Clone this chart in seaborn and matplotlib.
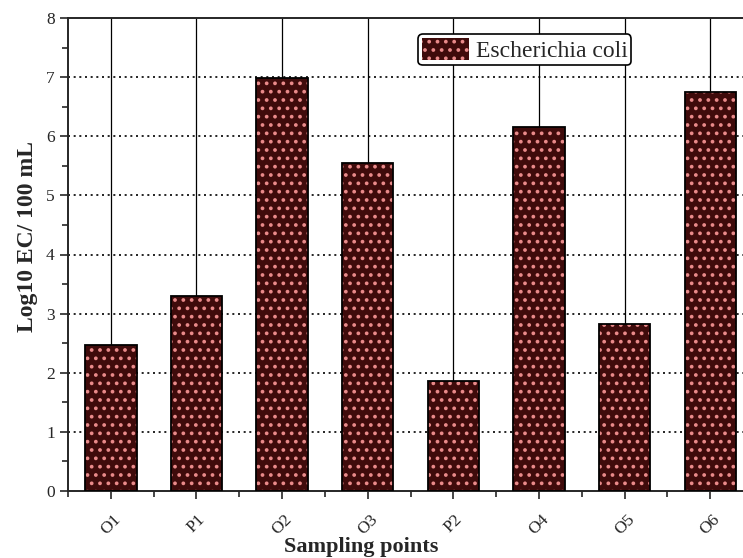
import matplotlib
matplotlib.use("Agg")
import matplotlib.pyplot as plt
import seaborn as sns
import pandas as pd
from matplotlib.ticker import MultipleLocator

# Sampling points and log10 E. coli counts
points = ["O1", "P1", "O2", "O3", "P2", "O4", "O5", "O6"]
log_ec = [2.47, 3.30, 6.99, 5.55, 1.86, 6.16, 2.83, 6.75]

df = pd.DataFrame({"point": points, "log_ec": log_ec})

sns.set_style("ticks")
plt.rcParams['font.family'] = ['Liberation Serif', 'DejaVu Serif']
plt.rcParams['hatch.linewidth'] = 1.5

fig = plt.figure(figsize=(7.43, 5.58), dpi=100)
ax = fig.add_axes([68 / 743, 67 / 558, 685 / 743, 473 / 558])

# vertical lines at each category, dotted horizontal grid
for i in range(len(points)):
    ax.axvline(i, color="black", lw=0.9, zorder=0)
for y in range(1, 8):
    ax.axhline(y, color="black", lw=1.2, ls=(0, (1.2, 2.2)), zorder=0)

# filled bars with pink dots, then black outlines on top
sns.barplot(data=df, x="point", y="log_ec", color="#3f0b0b", saturation=1,
            width=0.6, hatch="..", edgecolor="#e98a8a", linewidth=0,
            ax=ax, zorder=2, label="Escherichia coli")
sns.barplot(data=df, x="point", y="log_ec", fill=False, width=0.6,
            edgecolor="black", linewidth=1.3, ax=ax, zorder=3)

ax.set_xlim(-0.5, 7.5)
ax.set_ylim(0, 8)
ax.yaxis.set_major_locator(MultipleLocator(1))
ax.yaxis.set_minor_locator(MultipleLocator(0.5))
ax.xaxis.set_minor_locator(MultipleLocator(0.5))
ax.tick_params(which="both", direction="out", width=1.2, labelsize=12.5)
ax.tick_params(which="major", length=6)
ax.tick_params(which="minor", length=4)
ax.tick_params(axis="x", which="major", pad=9)
for s in ax.spines.values():
    s.set_linewidth(1.4)

ax.set_xticks(range(len(points)))
ax.set_xticklabels(points, rotation=45, fontsize=12.5)
ax.set_xlabel("Sampling points", fontsize=16, fontweight="bold")
ax.set_ylabel("Log10 EC/ 100 mL", fontsize=17, fontweight="bold")
ax.xaxis.set_label_coords(293 / 685, -46 / 473)
ax.yaxis.set_label_coords(-30 / 685, 254 / 473)

leg = ax.legend(loc="upper left", bbox_to_anchor=(350 / 685, 457 / 473), fontsize=17,
                frameon=True, fancybox=True, edgecolor="black", framealpha=1,
                handlelength=2.0, handleheight=1.1, borderpad=0.15,
                handletextpad=0.3, borderaxespad=0)
leg.get_frame().set_linewidth(1.2)
for h in leg.legend_handles:
    h.set_edgecolor("#e98a8a")

fig.savefig("out.png", dpi=100)
